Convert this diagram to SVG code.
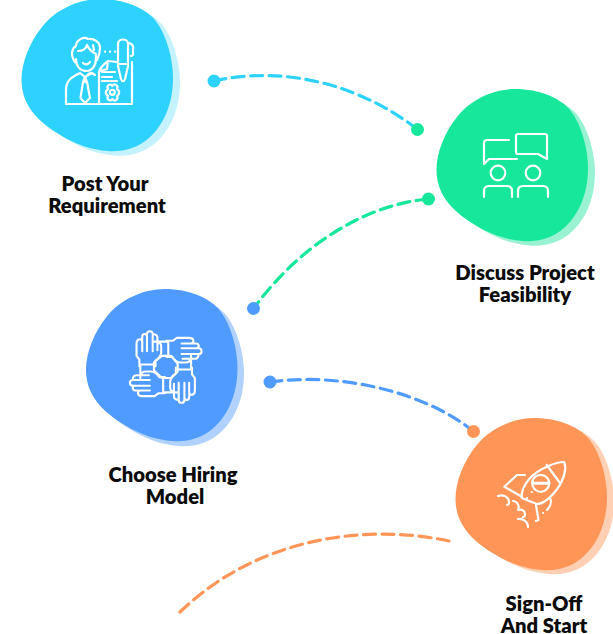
<svg xmlns="http://www.w3.org/2000/svg" width="613" height="634" viewBox="0 0 613 634">
<style>
text{font-family:"Lato","Liberation Sans",sans-serif;font-size:20.200px;font-weight:800;fill:#0b0b0b;text-anchor:middle}
.ic{fill:none;stroke:#fff;stroke-width:2.200;stroke-linecap:round;stroke-linejoin:round}
.c{fill:none;stroke-width:3.200;stroke-dasharray:12 6.500;stroke-linecap:round}
</style>
<defs>
<path id="b" d="M21.500 80C21.500 62 30 42 42 27C55 10 78 -1 100 -1C125 -1 145 8 155 20C167 35 173 60 173 78C173 105 163 125 150 137C137 149 122 152 108 151C92 150 75 144 62 136C45 126 21.500 110 21.500 80Z"/>
<g id="hand" class="ic">
<path d="M138 366V359L135 355V342C135 337 140 336 141 340V350M141 340V335C141 331 146 331 146 335V350M146 335V332C146 328 152 328 152 332V350M152 334C152 331 157 332 157 336V349M157 342C160 340 161 343 161 346V351C161 355 158 358 155 360V366M138 364H155M139 364V380"/>
</g>
</defs>
<rect width="613" height="634" fill="#fff"/>
<g id="connectors">
<path class="c" stroke="#2ed2ff" d="M214 81C285 65 360 85 417 129"/>
<path class="c" stroke="#16e79b" d="M428 199C365 205 300 245 254 308"/>
<path class="c" stroke="#4f9bff" d="M270 382C340 372 425 392 473 431"/>
<path class="c" stroke="#ff9658" d="M449 541C370 524 260 535 180 612"/>
<circle cx="214" cy="81" r="6.500" fill="#2ed2ff"/>
<circle cx="417.500" cy="129.500" r="6.500" fill="#16e79b"/>
<circle cx="428.500" cy="199" r="6.500" fill="#16e79b"/>
<circle cx="253.500" cy="308.500" r="6.500" fill="#4f9bff"/>
<circle cx="270" cy="382" r="6.500" fill="#4f9bff"/>
<circle cx="473.500" cy="431.500" r="6.500" fill="#ff9658"/>
</g>
<g id="node-post">
<use href="#b" x="7" y="4.500" fill="#c4f2ff"/>
<use href="#b" fill="#2ed2ff"/>
<g class="ic">
<path d="M66 104V90C66 80 72 77 80 73L85 77L92 73L95 75M80 73L85 77L90 73M85 77L83 82H87L85 77M83 82L80.500 98L85 103L90 98L87 82"/>
<path d="M66 104H132V62M99 104V72C100 68 104 64 108 61L107 69L100 71M108 61L117 62"/>
<path d="M75 62C70 55 72 48 76 46C76 40 84 36 88 39C94 38 100 42 100 48C100 52 98 58 97 60M76 59C76 66 80 71 86 71C92 71 96 66 96 58V54C92 52 89 50 87 45C86 49 82 51 78 51M83 63C85 65 88 65 90 62M93 45L94 50"/>
<path d="M105 51.700H105.100M110 51.700H110.100M115 51.700H115.100"/>
<path d="M102 72H115M102 77H112M102 81H117"/>
<circle cx="112.300" cy="92.300" r="2.500"/>
<path d="M108 89C106 85 111 83 112.300 86C114 83 119 85 117 89C120 91 120 94 117 96C119 100 114 102 112.300 99C111 102 106 100 108 96C105 94 105 91 108 89Z"/>
<path d="M118 44C118 38 128 38 128 44V66L125 79C124 82 122 82 121 79L118 66ZM118 64H128M128 43C132 43 134 46 133 50V55L131 56"/>
</g>
<text x="105" y="191">Post Your</text>
<text x="107" y="213">Requirement</text>
</g>
<g id="node-discuss">
<use href="#b" x="422" y="94.500" fill="#99f3d3"/>
<use href="#b" x="415" y="90" fill="#16e79b"/>
<g class="ic">
<path d="M509 140H487Q484 140 484 143V164L489 159H517"/>
<path d="M516 136Q516 134 518 134H545Q547 134 547 136V159L538 154H518Q516 154 516 152Z"/>
<circle cx="498" cy="173" r="7.300"/><circle cx="533" cy="173" r="7.300"/>
<path d="M484 197V191Q484 186 489 186H507Q512 186 512 191V197M518 197V191Q518 186 523 186H543Q548 186 548 191V197"/>
</g>
<text x="525" y="280">Discuss Project</text>
<text x="525" y="302">Feasibility</text>
</g>
<g id="node-hiring">
<use href="#b" x="71" y="295" fill="#b1d2ff"/>
<use href="#b" x="64.500" y="290" fill="#4f9bff"/>
<g transform="translate(165.700 367) scale(.95) translate(-165.700 -366.700)">
<use href="#hand"/>
<use href="#hand" transform="rotate(90 165.700 366.700)"/>
<use href="#hand" transform="rotate(180 165.700 366.700)"/>
<use href="#hand" transform="rotate(270 165.700 366.700)"/>
<path class="ic" d="M153.300 361.700L161.700 355H171.700L178.300 363.300V371.700L171.700 378.300H161.700L153.300 370Z"/>
</g>
<text x="173" y="482">Choose Hiring</text>
<text x="175" y="504">Model</text>
</g>
<g id="node-signoff">
<use href="#b" x="441" y="423" fill="#ffd0b3"/>
<use href="#b" x="434" y="419" fill="#ff9658"/>
<g class="ic">
<path d="M564.300 462C556 462 540 468 530 478C524 485 521 492 521.700 498L536.700 504C544 504 552 496 558 488C563 480 567 470 564.300 462Z"/>
<path d="M546.700 465L560 483"/>
<circle cx="540.700" cy="483.300" r="8.500"/><path d="M533 483.300H549" stroke-width="3"/>
<path d="M525 475H517L504.300 486.700L521.700 496.700"/>
<path d="M550 498C552 503 551 506 547 510M536 505L538.500 520L536 521M543 513H543.100M531.700 492H531.800M527 498H527.100"/>
<path d="M498 496C503 494 509 497 509 502C509 504 508 505 507 505M513 501C517 501 520 506 518 510M518 510C522 509 525 511 525 514C525 516 524 517 523 517M518 519C523 518 528 522 528 527"/>
</g>
<text x="544" y="610.500">Sign-Off</text>
<text x="544" y="632.500">And Start</text>
</g>
</svg>
